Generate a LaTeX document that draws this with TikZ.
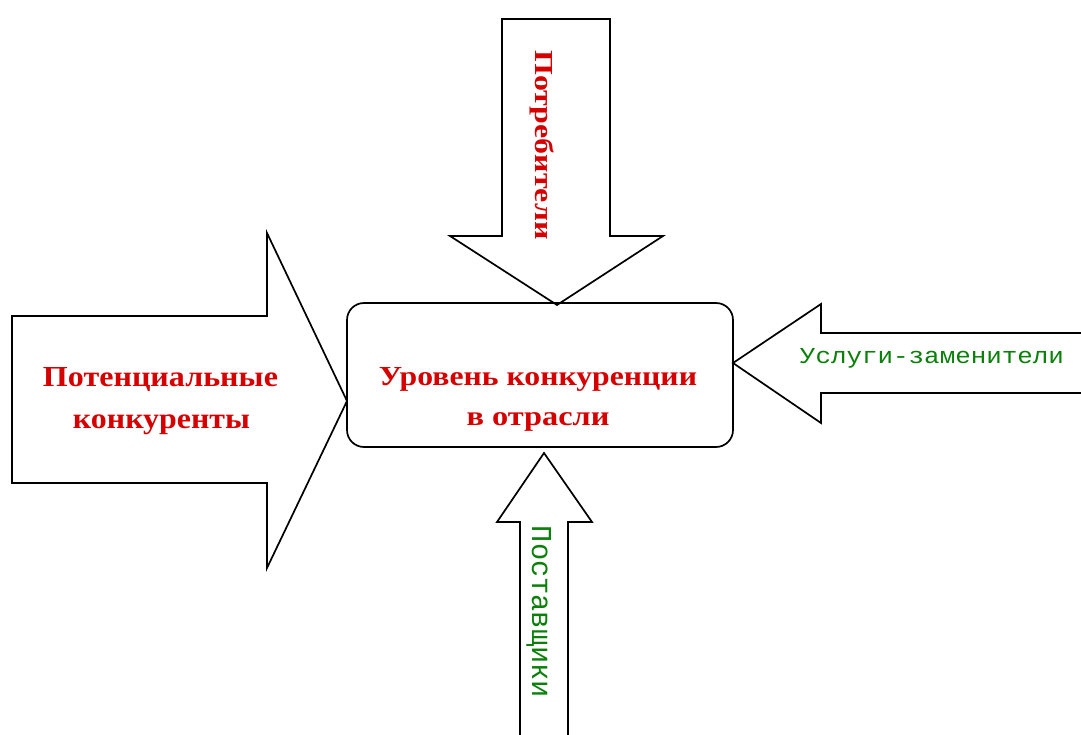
\documentclass[tikz,border=0pt]{standalone}
\usepackage{fontspec}
\setmainfont{Liberation Serif}
\newfontfamily\monofnt{Liberation Mono}
\usepackage{graphicx}
\definecolor{txtred}{RGB}{215,0,0}
\definecolor{txtgreen}{RGB}{10,128,10}
\newcommand\fitcap[3]{\resizebox{#1}{#2}{\smash{#3}\rule{0pt}{\fontcharht\font`H}}}
\tikzset{
  blockarrow/.style={draw=black, line width=1.7pt, fill=white, line join=miter},
  mainbox/.style={draw=black, line width=1.7pt, rounded corners=17pt, minimum width=386pt, minimum height=144pt, inner sep=0pt},
  redlabel/.style={text=txtred, font=\bfseries, inner sep=0pt, anchor=base},
  greenlabel/.style={text=txtgreen, font=\monofnt, inner sep=0pt, anchor=base}
}
\begin{document}
\begin{tikzpicture}[x=1pt, y=-1pt]
\useasboundingbox[fill=white] (0,0) rectangle (1081,735);
% top arrow (Потребители)
\draw[blockarrow] (502,19) -- (610,19) -- (610,236) -- (663,236) -- (557,305) -- (450,236) -- (502,236) -- cycle;
% left arrow (Потенциальные конкуренты)
\draw[blockarrow] (12,316) -- (267,316) -- (267,233) -- (347,401) -- (267,568) -- (267,483) -- (12,483) -- cycle;
% right arrow (Услуги-заменители)
\draw[blockarrow] (1081,333) -- (821,333) -- (821,304) -- (733,363) -- (821,423) -- (821,393) -- (1081,393);
% bottom arrow (Поставщики)
\draw[blockarrow] (520,735) -- (520,522) -- (497,522) -- (544,453) -- (592,522) -- (568,522) -- (568,735);
% central box
\node[mainbox] (box) at (540,375) {};
% labels
\node[redlabel] (ur1) at (538,385) {\fitcap{318pt}{18pt}{Уровень конкуренции}};
\node[redlabel] (ur2) at (538,425) {\fitcap{143pt}{18pt}{в отрасли}};
\node[redlabel] (pk1) at (160.5,386) {\fitcap{235pt}{19pt}{Потенциальные}};
\node[redlabel] (pk2) at (161.5,428) {\fitcap{177pt}{19pt}{конкуренты}};
\node[redlabel, rotate=-90] (potr) at (535,145) {\fitcap{189pt}{17pt}{Потребители}};
\node[greenlabel] (usl) at (932,363) {\fitcap{264pt}{15pt}{Услуги-заменители}};
\node[greenlabel, rotate=-90] (post) at (532,612) {\fitcap{172pt}{19pt}{Поставщики}};
\end{tikzpicture}
\end{document}
